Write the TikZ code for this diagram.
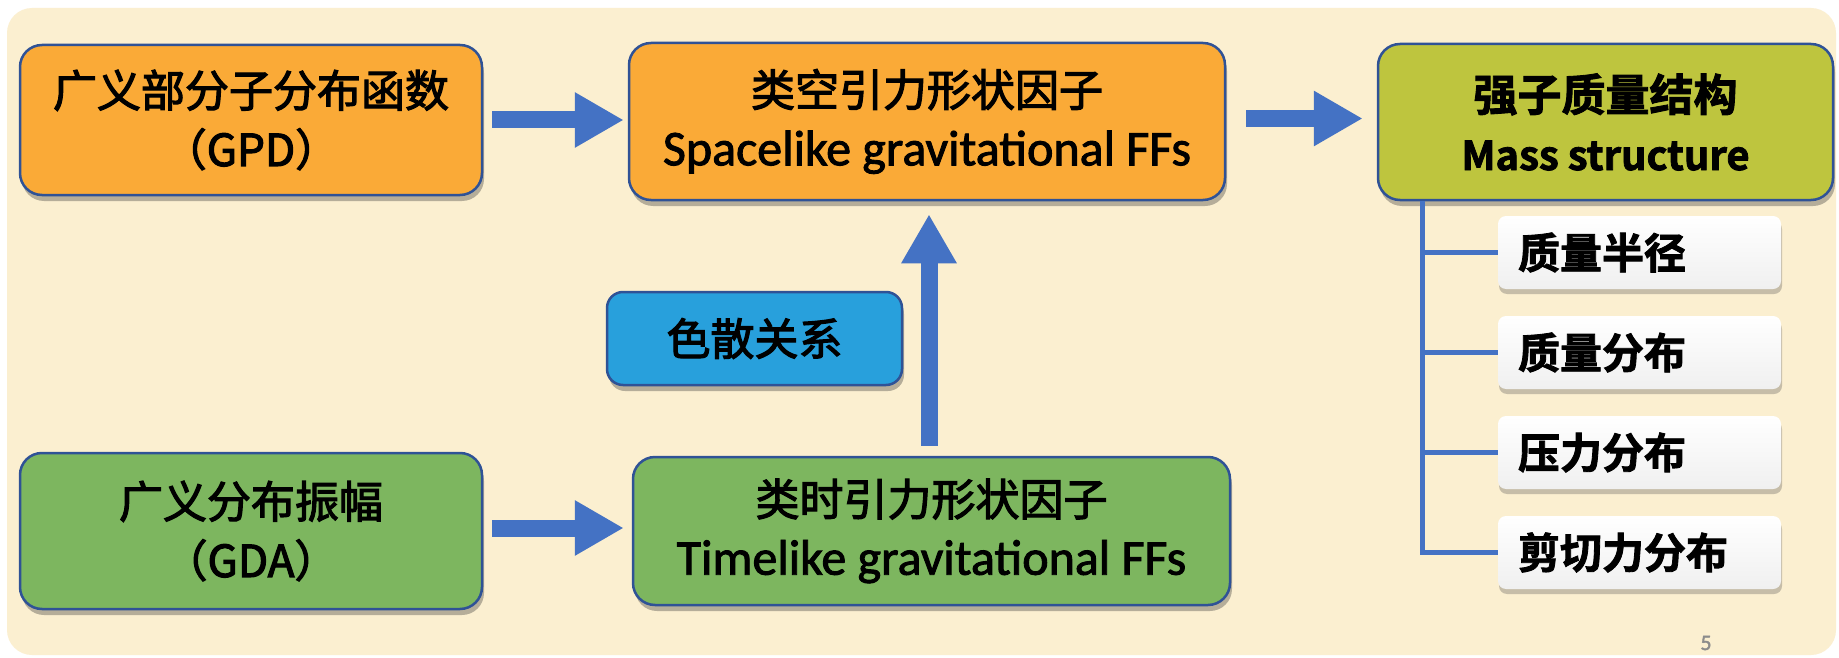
\documentclass[tikz,border=0pt]{standalone}
\usepackage{fontspec}
\setmainfont{Carlito}
\newfontfamily\cjk[FakeBold=2.6]{Noto Sans CJK SC}
\newfontfamily\cjkb[FakeBold=2]{Noto Sans CJK SC Bold}
\newfontfamily\lat[FakeBold=1.8]{Carlito}
\usetikzlibrary{arrows.meta,shadows,calc}
\definecolor{bgc}{RGB}{251,239,208}
\definecolor{bdr}{RGB}{47,82,150}
\definecolor{orng}{RGB}{250,170,55}
\definecolor{grn}{RGB}{125,182,95}
\definecolor{ygrn}{RGB}{190,197,62}
\definecolor{bluebox}{RGB}{40,160,220}
\definecolor{arr}{RGB}{68,114,196}
\begin{document}
\begin{tikzpicture}[x=1pt,y=-1pt,
  box/.style={draw=bdr, line width=2.5pt, rounded corners=22pt, align=center, inner sep=0pt,
    font=\fontsize{44}{59}\selectfont,
    drop shadow={shadow xshift=2pt, shadow yshift=-6pt, opacity=0.35, fill=black!80}},
  subbox/.style={rounded corners=8pt, top color=white, bottom color=black!6, draw=none,
    minimum height=73pt, text width=243pt, inner xsep=20pt, inner ysep=0pt, align=left,
    font=\fontsize{42}{50}\selectfont\cjkb,
    drop shadow={shadow xshift=1pt, shadow yshift=-5pt, opacity=0.3, fill=black!70}},
  barrow/.style={draw=arr, line width=17pt, -{Triangle[length=49pt, width=52pt]}},
  treeline/.style={draw=arr, line width=5pt}]
\useasboundingbox (0,0) rectangle (1839,658);
\fill[white] (0,0) rectangle (1839,658);
\fill[bgc, rounded corners=25pt] (7,8) rectangle (1836,655);

\node[box, fill=orng, minimum width=462pt, minimum height=150pt] (gpd) at (251,120)
  {\cjk 广义部分子分布函数\\\cjk （GPD）};
\node[box, fill=orng, minimum width=596pt, minimum height=157pt] (space) at (927,121.5)
  {\cjk 类空引力形状因子\\\lat\fontsize{50}{59}\selectfont Spacelike gravitational FFs};
\node[box, fill=ygrn, minimum width=455pt, minimum height=156pt] (mass) at (1605.5,122)
  {\cjkb 强子质量结构\\\cjkb\fontsize{40}{59}\selectfont Mass structure};
\node[box, fill=bluebox, minimum width=295pt, minimum height=93pt, rounded corners=16pt] (disp) at (754.5,338.5)
  {\cjk 色散关系};
\node[box, fill=grn, minimum width=462pt, minimum height=156pt] (gda) at (251,531)
  {\cjk 广义分布振幅\\\cjk （GDA）};
\node[box, fill=grn, minimum width=597pt, minimum height=148pt] (time) at (931.5,531)
  {\cjk 类时引力形状因子\\\lat\fontsize{50}{59}\selectfont Timelike gravitational FFs};

\node[subbox] (s1) at (1639.5,252.5) {质量半径};
\node[subbox] (s2) at (1639.5,352.5) {质量分布};
\node[subbox] (s3) at (1639.5,452.5) {压力分布};
\node[subbox] (s4) at (1639.5,552.5) {剪切力分布};

\coordinate (tr) at (1422,0);
\draw[treeline] (tr |- mass.south) -- (tr |- s4.west) -- (s4.west);
\draw[treeline] (tr |- s1.west) -- (s1.west);
\draw[treeline] (tr |- s2.west) -- (s2.west);
\draw[treeline] (tr |- s3.west) -- (s3.west);

\draw[barrow] ($(gpd.east)+(9,0)$) -- ($(space.west |- gpd.east)+(-4,0)$);
\draw[barrow] ($(space.east)+(20,-3)$) -- ($(mass.west |- space.east)+(-14,-3)$);
\draw[barrow] ($(gda.east)+(9,-3)$) -- ($(time.west |- gda.east)+(-8,-3)$);
\coordinate (upx) at (929,0);
\draw[barrow] ($(upx |- time.north)+(0,-10)$) -- ($(upx |- space.south)+(0,13)$);

\node[text=black!45, font=\lat\fontsize{22}{26}\selectfont] (pg) at (1706,643) {5};
\end{tikzpicture}
\end{document}
